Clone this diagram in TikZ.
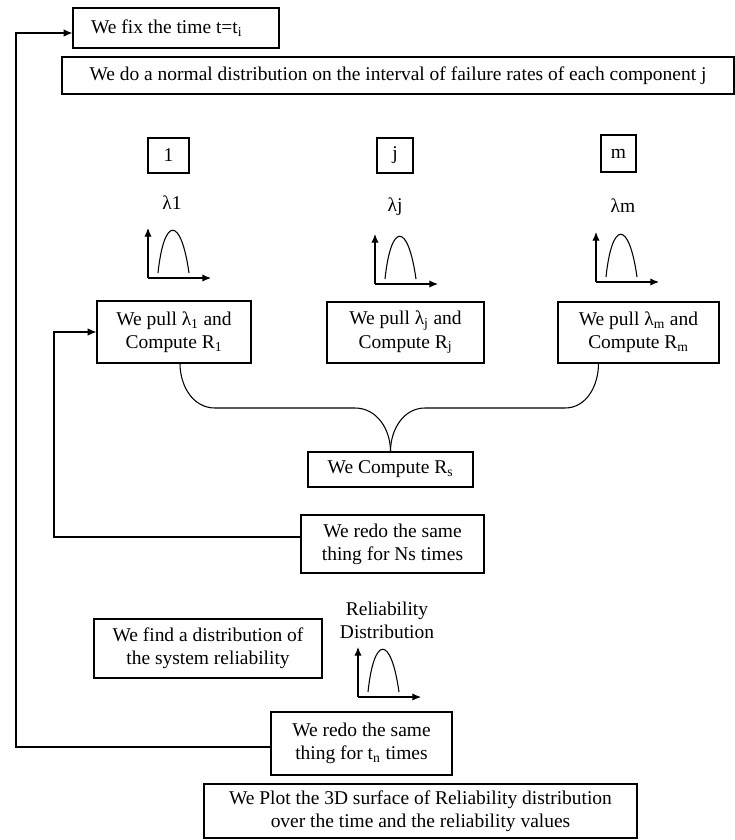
\documentclass[tikz,border=0pt]{standalone}
\usepackage{fontspec}
\setmainfont{Liberation Serif}
\usepackage{tikz}
\usetikzlibrary{arrows.meta, positioning, calc}

\begin{document}
\begin{tikzpicture}[
          x=0.75pt, y=-0.75pt,
          font=\fontsize{14.6}{17.3}\selectfont,
          stepbox/.style={rectangle, draw=black, line width=0.9pt, inner sep=2pt, align=center},
          lbl/.style={inner sep=0pt, align=center},
          conn/.style={line width=0.8pt},
          arr/.style={line width=0.8pt, -{Latex[length=6.5pt, width=5.5pt]}}
        ]
          \useasboundingbox (0,0) rectangle (735,840);

          % Top boxes
          \node[stepbox, minimum width=154.5pt, minimum height=30pt] (fix) at (176,28) {We fix the time t=t\textsubscript{i}\hspace{14pt}};
          \node[stepbox, minimum width=504pt, minimum height=27.75pt] (normal) at (398,75.5) {We do a normal distribution on the interval of failure rates of each component j};

          % Components
          \node[stepbox, minimum width=30.75pt, minimum height=26.25pt] (comp1) at (168.5,155.5) {1};
          \node[stepbox, minimum width=27pt, minimum height=26.25pt] (compj) at (395,155.5) {j};
          \node[stepbox, minimum width=26.25pt, minimum height=27.75pt] (compm) at (618.5,153.5) {m};

          \node[lbl] (lam1) at (172,203) {λ1};
          \node[lbl] (lamj) at (395,207) {λj};
          \node[lbl] (lamm) at (623,206) {λm};

          % Small distribution plots
          \foreach \px/\py in {148/278, 375/284, 596/282, 358/697} {
            \draw[arr] (\px,\py) -- (\px,\py-50);
            \draw[arr] (\px,\py) -- (\px+63,\py);
            \draw[conn] (\px+10,\py-5) .. controls (\px+16,\py-62) and (\px+33,\py-62) .. (\px+41,\py-5);
          }

          % Pull boxes
          \node[stepbox, minimum width=115.5pt, minimum height=46.5pt] (pull1) at (174,332) {We pull λ\textsubscript{1} and\\Compute R\textsubscript{1}};
          \node[stepbox, minimum width=117.75pt, minimum height=45.75pt] (pullj) at (405.5,332.5) {We pull λ\textsubscript{j} and\\Compute R\textsubscript{j}};
          \node[stepbox, minimum width=120.75pt, minimum height=45.75pt] (pullm) at (638.5,332.5) {We pull λ\textsubscript{m} and\\Compute R\textsubscript{m}};

          \node[stepbox, minimum width=123.75pt, minimum height=26.25pt] (rs) at (390.5,469.5) {We Compute R\textsubscript{s}};
          \node[stepbox, minimum width=137.25pt, minimum height=43.5pt] (redons) at (392.5,544) {We redo the same\\thing for Ns times};

          % Lower part
          \node[stepbox, minimum width=171pt, minimum height=44.25pt] (finddist) at (208,648.5) {We find a distribution of\\the system reliability};
          \node[lbl] (reldist) at (387,620) {Reliability\\Distribution};
          \node[stepbox, minimum width=135.75pt, minimum height=47.25pt] (redotn) at (361.5,743.5) {We redo the same\\thing for t\textsubscript{n} times};
          \node[stepbox, minimum width=324.75pt, minimum height=40.5pt] (plotsurf) at (420.5,811) {We Plot the 3D surface of Reliability distribution\\over the time and the reliability values};

          % Connections
          \draw[conn] (pull1.south) ++(6,0) to[out=-90, in=180] (215,408) -- (355,408) to[out=0, in=90] (rs.north);
          \draw[conn] (pullm.south) ++(-40,0) to[out=-90, in=0] (565,408) -- (425,408) to[out=180, in=90] (rs.north);

          \coordinate (innerturn) at (54,537);
          \draw[arr] (redons.west |- innerturn) -- (innerturn) |- (pull1.west);

          \coordinate (outerturn) at (16,747);
          \draw[arr] (redotn.west |- outerturn) -- (outerturn) |- ([yshift=-3.75pt]fix.west);
        \end{tikzpicture}
\end{document}
